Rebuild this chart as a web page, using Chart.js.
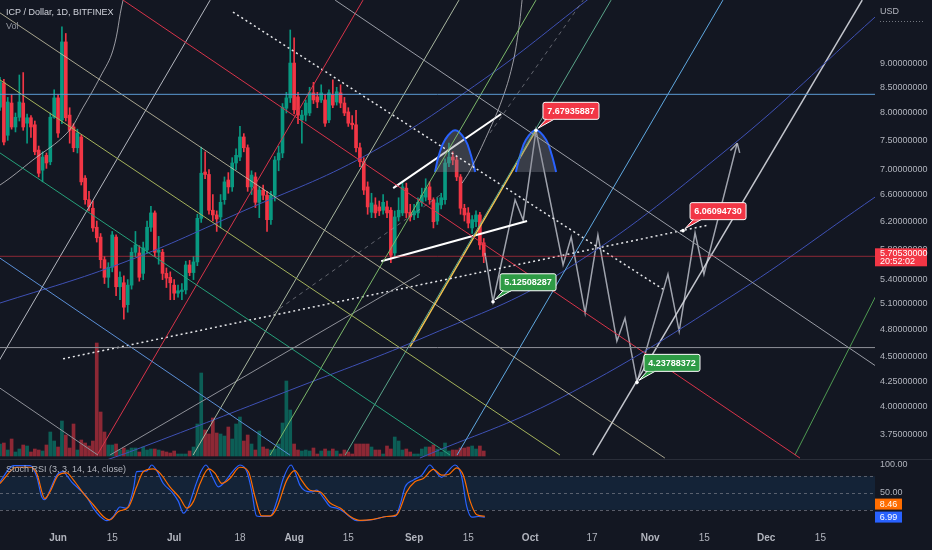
<!DOCTYPE html>
<html>
<head>
<meta charset="utf-8">
<script src="https://cdn.jsdelivr.net/npm/chart.js@4.4.1/dist/chart.umd.min.js"></script>
<style>
  html, body { margin: 0; padding: 0; background: #131722; overflow: hidden; }
  #wrap { position: relative; width: 932px; height: 550px; }
  canvas { position: absolute; left: 0; display: block; }
  #main { top: 0; }
  #stoch { top: 459px; }
</style>
</head>
<body>
<div id="wrap">
  <canvas id="main" width="932" height="459"></canvas>
  <canvas id="stoch" width="932" height="91"></canvas>
</div>
<script>
// day 0 = 1 Jun; first candle is 17 May
const firstDay = -15;
const xMin = -15, xMax = 211.1;
const priceMin = 3.537, priceMax = 10.443;

const priceTicks = [9, 8.5, 8, 7.5, 7, 6.6, 6.2, 5.8, 5.4, 5.1, 4.8, 4.5, 4.25, 4, 3.75];
const tickDays = [0, 14, 30, 47, 61, 75, 92, 106, 122, 138, 153, 167, 183, 197];
const tickLabels = ['Jun', '15', 'Jul', '18', 'Aug', '15', 'Sep', '15', 'Oct', '17', 'Nov', '15', 'Dec', '15'];

const opens = [8.11,8.59,7.59,8.19,7.74,7.92,8.19,7.81,7.91,7.78, 7.33,6.99,7.24,7.13,7.92,8.29,7.87,9.46,7.96,7.74,
  7.37,7.56,6.86,6.52,6.39,6.11,5.97,5.66,5.43,5.56, 5.97,5.31,5.36,5.09,5.33,5.76,5.75,5.48,5.79,6.11,
  6.32,5.76,5.76,5.48,5.43,5.33,5.23,5.25,5.27,5.59, 5.49,5.63,6.24,6.96,6.92,6.36,6.29,6.26,6.52,6.83,
  6.72,7.11,7.21,7.56,7.37,6.72,6.88,6.48,6.67,6.59, 6.22,6.59,7.16,7.28,8.09,8.29,9.00,8.31,7.87,7.96,
  8.00,8.39,8.31,8.25,8.25,7.87,8.35,8.21,8.39,8.19, 8.02,7.81,7.78,7.37,7.13,6.72,6.33,6.44,6.41,6.36,
  6.41,6.36,5.75,6.26,6.32,6.70,6.33,6.29,6.32,6.48, 6.56,6.72,6.52,6.20,6.44,6.52,7.11,7.21,7.16,6.88,
  6.39,6.32,6.10,6.19,6.29,5.89];
const highs = [8.70,8.66,8.30,8.35,8.00,8.75,8.80,7.98,7.95,7.85, 7.40,7.30,7.28,8.00,8.45,8.35,9.80,9.65,8.10,7.80,
  7.70,7.60,6.90,6.65,6.50,6.20,6.02,5.70,5.62,6.05, 6.00,5.50,5.45,5.40,5.82,6.05,5.85,5.90,6.20,6.42,
  6.35,5.98,5.80,5.55,5.50,5.40,5.33,5.35,5.64,5.65, 5.70,6.30,7.38,7.30,7.00,6.60,6.35,6.60,6.88,6.95,
  7.20,7.35,7.75,7.62,7.42,6.98,6.95,6.72,6.75,6.65, 6.65,7.22,7.40,8.18,8.40,9.73,9.55,8.40,8.05,8.25,
  8.50,8.60,8.40,8.55,8.35,8.45,8.65,8.50,8.55,8.30, 8.10,7.95,8.05,7.45,7.20,6.80,6.62,6.55,6.50,6.60,
  6.50,6.40,6.35,6.55,6.80,6.78,6.45,6.45,6.55,6.70, 6.85,6.80,6.55,6.55,6.62,7.18,7.45,7.30,7.22,6.92,
  6.45,6.40,6.28,6.35,6.33,5.95];
const lows = [8.05,7.42,7.50,7.70,7.65,7.85,7.68,7.45,7.55,7.25, 6.88,6.80,7.02,7.08,7.90,7.55,7.80,7.85,7.45,7.30,
  7.28,6.75,6.45,6.35,6.05,5.90,5.55,5.35,5.30,5.50, 5.20,5.15,4.92,5.00,5.28,5.70,5.38,5.40,5.75,6.05,
  5.70,5.60,5.40,5.30,5.15,5.15,5.18,5.15,5.22,5.45, 5.40,5.58,6.18,6.85,6.30,6.20,6.05,6.10,6.45,6.62,
  6.65,7.00,7.15,7.30,6.65,6.60,6.40,6.25,6.52,6.05, 6.15,6.50,6.98,7.20,8.00,8.20,7.98,7.80,7.45,7.85,
  7.95,8.18,8.10,8.20,7.75,7.82,8.10,8.15,8.10,7.95, 7.75,7.70,7.30,7.05,6.60,6.30,6.25,6.25,6.28,6.30,
  6.25,5.62,5.70,6.20,6.28,6.25,6.20,6.22,6.25,6.42, 6.50,6.45,6.10,6.15,6.38,6.45,7.05,7.08,6.82,6.30,
  6.20,6.10,6.02,6.12,5.80,5.62];
const closes = [8.61,7.47,8.21,7.74,7.92,8.21,7.74,7.91,7.74,7.30, 6.94,7.21,7.11,7.92,8.29,7.63,9.46,7.91,7.68,7.37,
  7.63,6.80,6.52,6.41,6.10,5.96,5.66,5.43,5.56,6.00, 5.31,5.43,5.06,5.33,5.76,5.86,5.43,5.82,6.11,6.32,
  5.76,5.79,5.48,5.42,5.36,5.23,5.26,5.27,5.59,5.49, 5.63,6.24,6.94,6.92,6.36,6.29,6.23,6.48,6.80,6.72,
  7.11,7.24,7.56,7.37,6.72,6.91,6.48,6.67,6.59,6.22, 6.59,7.16,7.28,8.11,8.29,9.00,8.06,7.96,7.96,8.19,
  8.39,8.25,8.21,8.39,7.81,8.39,8.15,8.41,8.19,8.00, 7.81,7.78,7.37,7.13,6.67,6.41,6.47,6.32,6.35,6.48,
  6.32,5.72,6.26,6.36,6.72,6.32,6.26,6.35,6.48,6.59, 6.70,6.52,6.19,6.47,6.55,7.11,7.21,7.16,6.88,6.39,
  6.29,6.17,6.22,6.29,5.86,5.7053];
const volumes = [12,13,6,17,4,7,11,10,4,7, 6,5,11,24,15,9,35,21,8,32, 6,16,13,10,15,113,44,24,11,11,
  12,6,8,6,8,8,4,9,6,7, 7,6,5,4,3,5,2,2,2,5, 9,32,83,26,22,38,23,22,20,29,
  17,32,39,15,21,12,6,25,9,7, 6,7,12,33,75,46,12,6,5,6, 5,8,2,5,7,5,7,5,2,6,
  4,2,12,12,12,12,9,6,6,2, 10,7,19,15,6,7,4,2,2,7, 9,9,11,7,4,13,5,6,6,8,
  8,9,10,7,10,5];

// Stoch RSI
const kDays = [-15,-11.5,-9.4,-7.2,-5.5,-4.2,-3.4,-2.1,-0.3,1.4, 2.2,3.5,5.3,7.4,9.1,10.9,12.6,14.3,16.0,17.7,
  19.5,20.3,22.9,24.2,25.5,27.2,29.4,31.1,32.4,33.7, 35.4,36.7,38.2,40.1,41.4,42.7,44.4,45.7,47.0,48.8,
  50.0,51.3,53.0,54.8,56.5,58.2,60.2,61.2,62.5,63.8, 65.6,66.8,68.6,70.3,72.0,73.7,75.5,77.2,79.8,82.4,
  84.9,87.1,88.4,89.7,91.8,94.0,96.1,97.4,99.1,100.9, 102.6,104.3,105.6,106.9,108.6,110.3];
const stochK = [70,99,99,99,79,43,38,55,82,88, 82,70,58,43,23,8,0.5,8,25,23, 58,88,89,100,90,67,52,35,14,26,
  61,85,100,76,61,67,82,93,100,88, 55,9,8,8,35,76,100,88,64,54, 52,55,41,26,23,17,7,0.5,1,4,
  8,8,29,61,73,82,100,90,78,90, 100,79,26,7,8,6.99];
const dDays = [-15,-10.7,-7.2,-5.5,-3.4,-2.1,0.1,2.2,4.0,6.6, 9.1,11.7,13.4,15.6,18.2,20.3,22.0,24.6,26.4,28.9,
  31.5,33.3,35.0,36.7,38.9,40.6,42.3,44.4,47.0,49.2, 50.9,52.6,54.8,56.5,59.1,61.2,62.9,65.1,67.7,70.3,
  72.9,75.5,78.0,81.5,84.9,87.5,90.1,92.2,94.4,97.0, 99.1,100.9,103.0,104.7,106.5,108.2,110.3];
const stochD = [67,96,96,85,40,52,82,86,73,49, 29,8,2,17,25,61,88,93,85,61, 41,23,35,67,93,85,67,76,96,88,
  43,9,9,23,73,90,73,55,52,32, 23,8,1,3,8,11,52,70,76,92, 82,83,95,82,35,11,8.46];
const stochBands = [80, 50, 20];
const stochTicks = [100, 50];

// drawings: [day, price] points
const levelPrices = [8.36, 4.60];
const dotDown = [[45.2, 10.15], [156.3, 5.28]];
const dotUp = [[1.3, 4.48], [168.0, 6.14]];
const chanUpper = [[86.6, 6.70], [114.5, 7.98]];
const chanLower = [[83.5, 5.64], [121.2, 6.20]];
const yellowLine = [[91.0, 4.61], [123.5, 7.68]];
const descLines = [
  [[-15, 10.13], [156.8, 3.545]],
  [[-15, 8.65], [129.7, 3.57]],
  [[-15, 7.28], [101.3, 3.57]],
  [[-15, 5.68], [59.9, 3.57]],
  [[-15, 4.18], [10.3, 3.57]],
  [[16.8, 10.44], [191.7, 3.545]],
  [[71.6, 10.44], [211.1, 4.41]]
];
const ascLines = [
  [[-29.5, 3.57], [39.3, 10.44]],
  [[10.1, 3.57], [78.8, 10.44]],
  [[34.9, 3.57], [103.6, 10.44]],
  [[54.8, 3.57], [123.5, 10.44]],
  [[74.2, 3.57], [142.9, 10.44]],
  [[103.1, 3.57], [171.8, 10.44]],
  [[190.4, 3.57], [250.2, 10.44]],
  [[13.4, 3.57], [93.5, 5.47]]
];
const dashLines = [
  [[55.6, 4.99], [98.7, 6.59]],
  [[111.6, 7.63], [135.7, 10.44]]
];
const whiteRay = [[138.2, 3.57], [207.8, 10.44]];
const arcGray1 = [[18.6, 10.95], [16.8, 10.44], [14.2, 9.28], [10.9, 8.71], [6.5, 8.11], [2.3, 7.63], [-6.5, 7.16], [-15, 6.75], [-20.2, 6.59]];
const arcGray2 = [[120.4, 10.95], [119.9, 10.44], [118.9, 9.66], [117.3, 8.92], [114.7, 8.25], [111.1, 7.63], [106.5, 6.99], [104.4, 6.78]];
const arcBlue1 = [[-20.2, 5.05], [-15, 5.11], [17.3, 5.63], [48.3, 6.36], [79.3, 7.23], [109.8, 8.65], [136.7, 10.44], [145, 11.08]];
const arcBlue2 = [[10.9, 3.51], [21.2, 3.63], [59.9, 4.16], [96.1, 4.74], [129.7, 5.48], [173.6, 7.38], [211.1, 10.03]];
const arcBlue3 = [[93.5, 3.545], [129.7, 4.08], [173.6, 5.18], [211.1, 6.56]];
const humpPrices = [6.96, 7.24, 7.51, 7.68, 7.51, 7.24, 6.96];
const hump1Days = [97.4, 98.4, 100.0, 102.6, 105.2, 106.7, 107.8];
const hump2Days = [118.3, 119.4, 120.9, 123.5, 126.1, 127.6, 128.7];
const humpBase = 6.96;
const projDays = [110.3, 112.4, 118.1, 120.2, 123.5, 130.5, 132.6, 136.2, 139.5, 144.4, 146.5, 149.6, 157.6, 160.5, 164.6, 166.9, 175.5];
const projPrices = [5.75, 5.125, 6.52, 6.21, 7.679, 5.59, 5.97, 4.99, 6.00, 4.67, 4.93, 4.238, 5.47, 4.78, 6.03, 5.47, 7.45];
const calloutDays = [123.5, 112.4, 149.6, 161.5];
const calloutPrices = [7.67935887, 5.12508287, 4.23788372, 6.06094730];

const FONT = "'Liberation Sans', Arial, sans-serif";
Chart.defaults.font.family = FONT;
const UP = '#089981', DOWN = '#f23645';
const AXIS_TXT = '#b2b5be';

const days = closes.map((_, i) => firstDay + i);
const isUp = closes.map((c, i) => c >= opens[i]);
const lastClose = closes[closes.length - 1];

function seg(points, color, extra) {
  return Object.assign({
    type: 'line',
    data: points.map(([x, y]) => ({ x, y })),
    borderColor: color,
    borderWidth: 1,
    pointRadius: 0,
    tension: 0,
    fill: false,
    order: 0
  }, extra || {});
}

const descColors = ['rgba(205,200,170,0.8)', '#a5b35c', '#26a17a', '#5b8fd6', '#8f9199', '#d8344a', '#9a9da6'];
const ascColors = ['#b5b8c0', '#d8344a', '#a9b7a0', '#7cb86a', '#5aa58a', '#5fa8e0', '#4f9a52', '#8f9199'];

const drawingSets = [
  seg([[xMin, levelPrices[0]], [xMax, levelPrices[0]]], '#5b9bd5'),
  seg([[xMin, levelPrices[1]], [xMax, levelPrices[1]]], '#8f9199'),
  seg([[xMin, lastClose], [xMax, lastClose]], 'rgba(242,54,69,0.55)'),
  ...descLines.map((l, i) => seg(l, descColors[i])),
  ...ascLines.map((l, i) => seg(l, ascColors[i])),
  ...dashLines.map(l => seg(l, 'rgba(150,152,160,0.6)', { borderDash: [4, 4] })),
  seg(arcGray1, 'rgba(200,200,205,0.75)', { tension: 0.4 }),
  seg(arcGray2, 'rgba(200,200,205,0.75)', { tension: 0.4 }),
  seg(arcBlue1, '#3f51b5', { tension: 0.4 }),
  seg(arcBlue2, '#3f51b5', { tension: 0.4 }),
  seg(arcBlue3, '#3f51b5', { tension: 0.4 }),
  seg(whiteRay, 'rgba(215,217,224,0.9)', { borderWidth: 1.5 }),
  seg(dotDown, '#e6e7ea', { borderWidth: 1.5, borderDash: [2, 3] }),
  seg(dotUp, '#e6e7ea', { borderWidth: 1.5, borderDash: [2, 3] }),
  seg(hump1Days.map((d, i) => [d, humpPrices[i]]), '#2962ff', { borderWidth: 2, tension: 0.4, fill: { value: humpBase }, backgroundColor: 'rgba(130,133,144,0.35)' }),
  seg(hump2Days.map((d, i) => [d, humpPrices[i]]), '#2962ff', { borderWidth: 2, tension: 0.4, fill: { value: humpBase }, backgroundColor: 'rgba(130,133,144,0.35)' }),
  seg(yellowLine, '#f2c14e', { borderWidth: 1.5 }),
  seg(chanUpper, '#ffffff', { borderWidth: 2 }),
  seg(chanLower, '#ffffff', { borderWidth: 2 }),
  seg(projDays.map((d, i) => [d, projPrices[i]]), 'rgba(175,178,188,0.9)', { borderWidth: 1.5 })
];

const mainOverlay = {
  id: 'mainOverlay',
  afterDraw(chart) {
    const { ctx, chartArea: a, scales: { x, y } } = chart;
    ctx.save();
    ctx.textBaseline = 'middle';
    ctx.textAlign = 'left';
    ctx.font = '9px ' + FONT;
    ctx.fillStyle = '#d1d4dc';
    ctx.fillText('ICP / Dollar, 1D, BITFINEX', 6, 13);
    ctx.fillStyle = '#9598a1';
    ctx.fillText('Vol', 6, 27);
    ctx.fillStyle = AXIS_TXT;
    ctx.fillText('USD', a.right + 5, 12);
    ctx.strokeStyle = 'rgba(178,181,190,0.6)';
    ctx.setLineDash([1, 2]);
    ctx.beginPath(); ctx.moveTo(a.right + 5, 21.5); ctx.lineTo(a.right + 50, 21.5); ctx.stroke();
    ctx.setLineDash([]);

    // arrow head on projection path
    const n = projDays.length;
    const x1 = x.getPixelForValue(projDays[n - 2]), y1 = y.getPixelForValue(projPrices[n - 2]);
    const x2 = x.getPixelForValue(projDays[n - 1]), y2 = y.getPixelForValue(projPrices[n - 1]);
    const ang = Math.atan2(y2 - y1, x2 - x1);
    ctx.strokeStyle = 'rgba(175,178,188,0.9)';
    ctx.lineWidth = 1.5;
    ctx.beginPath();
    [-1, 1].forEach(s => {
      ctx.moveTo(x2, y2);
      ctx.lineTo(x2 - 10 * Math.cos(ang + s * 0.5), y2 - 10 * Math.sin(ang + s * 0.5));
    });
    ctx.stroke();

    // callouts
    calloutDays.forEach((d, i) => {
      const px = x.getPixelForValue(d), py = y.getPixelForValue(calloutPrices[i]);
      const col = i === 0 || i === 3 ? '#f23645' : '#2e9b45';
      const bx = px + 7, by = py - 28, bw = 56, bh = 17;
      ctx.fillStyle = col;
      ctx.strokeStyle = '#ffffff';
      ctx.lineWidth = 1;
      ctx.beginPath();
      ctx.moveTo(px + 2, py - 2);
      ctx.lineTo(bx + 3, by + bh);
      ctx.lineTo(bx + 11, by + bh);
      ctx.closePath();
      ctx.fill(); ctx.stroke();
      ctx.beginPath();
      ctx.roundRect(bx, by, bw, bh, 2);
      ctx.fill(); ctx.stroke();
      ctx.beginPath();
      ctx.moveTo(bx + 3.5, by + bh - 0.5); ctx.lineTo(bx + 10.5, by + bh - 0.5);
      ctx.strokeStyle = col; ctx.stroke();
      ctx.fillStyle = '#ffffff';
      ctx.beginPath(); ctx.arc(px, py, 1.8, 0, Math.PI * 2); ctx.fill();
      ctx.font = 'bold 9px ' + FONT;
      ctx.textAlign = 'center';
      ctx.fillText(calloutPrices[i].toFixed(8), bx + bw / 2, by + bh / 2 + 0.5);
    });

    // last price tag on the axis
    const ly = y.getPixelForValue(lastClose);
    ctx.fillStyle = '#f23645';
    ctx.fillRect(a.right, ly - 8, 52, 18);
    ctx.fillStyle = '#ffffff';
    ctx.textAlign = 'left';
    ctx.font = '9px ' + FONT;
    ctx.fillText(lastClose.toFixed(8), a.right + 5, ly - 3);
    ctx.fillText('20:52:02', a.right + 5, ly + 5.5);
    ctx.restore();
  }
};

new Chart(document.getElementById('main'), {
  type: 'bar',
  data: {
    datasets: [
      ...drawingSets,
      {
        type: 'bar', order: 1, grouped: false, barThickness: 3, minBarLength: 1,
        data: days.map((d, i) => ({ x: d, y: [opens[i], closes[i]] })),
        backgroundColor: isUp.map(u => (u ? UP : DOWN))
      },
      {
        type: 'bar', order: 2, grouped: false, barThickness: 1,
        data: days.map((d, i) => ({ x: d, y: [lows[i], highs[i]] })),
        backgroundColor: isUp.map(u => (u ? UP : DOWN))
      },
      {
        type: 'bar', order: 3, grouped: false, barThickness: 3, yAxisID: 'yVol',
        data: days.map((d, i) => ({ x: d, y: volumes[i] })),
        backgroundColor: isUp.map(u => (u ? 'rgba(8,153,129,0.55)' : 'rgba(242,54,69,0.55)'))
      }
    ]
  },
  options: {
    responsive: false,
    animation: false,
    events: [],
    layout: { padding: 0, autoPadding: false },
    plugins: { legend: { display: false }, tooltip: { enabled: false } },
    scales: {
      x: { type: 'linear', display: false, min: xMin, max: xMax, offset: false },
      y: {
        type: 'logarithmic', position: 'right', min: priceMin, max: priceMax, bounds: 'data',
        grid: { display: false, drawTicks: false }, border: { display: false },
        ticks: { color: AXIS_TXT, font: { size: 9 }, padding: 5, autoSkip: false, callback: v => Number(v).toFixed(8) },
        afterBuildTicks: s => { s.ticks = priceTicks.map(v => ({ value: v })); },
        afterFit: s => { s.width = 57; s.paddingTop = 0; s.paddingBottom = 0; }
      },
      yVol: { type: 'linear', display: false, min: -3, max: 456 }
    }
  },
  plugins: [mainOverlay]
});

const stochPanel = {
  id: 'stochPanel',
  beforeDatasetsDraw(chart) {
    const { ctx, chartArea: a, scales: { y } } = chart;
    ctx.save();
    const top = y.getPixelForValue(stochBands[0]), bot = y.getPixelForValue(stochBands[2]);
    ctx.fillStyle = 'rgba(33,150,243,0.1)';
    ctx.fillRect(a.left, top, a.right - a.left, bot - top);
    ctx.strokeStyle = 'rgba(120,123,134,0.7)';
    ctx.lineWidth = 1;
    ctx.setLineDash([3, 3]);
    stochBands.forEach(v => {
      const py = Math.round(y.getPixelForValue(v)) + 0.5;
      ctx.beginPath(); ctx.moveTo(a.left, py); ctx.lineTo(a.right, py); ctx.stroke();
    });
    ctx.restore();
  },
  afterDraw(chart) {
    const { ctx, chartArea: a, scales: { y } } = chart;
    ctx.save();
    ctx.strokeStyle = '#2a2e39';
    ctx.lineWidth = 1;
    ctx.beginPath(); ctx.moveTo(0, 0.5); ctx.lineTo(chart.width, 0.5); ctx.stroke();
    ctx.textBaseline = 'middle';
    ctx.textAlign = 'left';
    ctx.font = '9px ' + FONT;
    ctx.fillStyle = AXIS_TXT;
    ctx.fillText('Stoch RSI (3, 3, 14, 14, close)', 6, 11);
    const lastK = stochK[stochK.length - 1], lastD = stochD[stochD.length - 1];
    const kY = y.getPixelForValue(lastK);
    const dY = Math.min(y.getPixelForValue(lastD), kY - 13);
    [[dY, '#ff6d00', lastD], [kY, '#2962ff', lastK]].forEach(([py, col, v]) => {
      ctx.fillStyle = col;
      ctx.fillRect(a.right, py - 5.5, 27, 11);
      ctx.fillStyle = '#ffffff';
      ctx.textAlign = 'center';
      ctx.fillText(v.toFixed(2), a.right + 13.5, py + 0.5);
    });
    ctx.restore();
  }
};

new Chart(document.getElementById('stoch'), {
  type: 'line',
  data: {
    datasets: [
      {
        order: 0, data: dDays.map((d, i) => ({ x: d, y: stochD[i] })),
        borderColor: '#ff6d00', borderWidth: 1.2, pointRadius: 0, cubicInterpolationMode: 'monotone'
      },
      {
        order: 1, data: kDays.map((d, i) => ({ x: d, y: stochK[i] })),
        borderColor: '#2962ff', borderWidth: 1.2, pointRadius: 0, cubicInterpolationMode: 'monotone'
      }
    ]
  },
  options: {
    responsive: false,
    animation: false,
    events: [],
    layout: { padding: 0, autoPadding: false },
    plugins: { legend: { display: false }, tooltip: { enabled: false } },
    scales: {
      x: {
        type: 'linear', min: xMin, max: xMax, offset: false,
        grid: { display: false, drawTicks: false }, border: { display: false },
        ticks: {
          color: AXIS_TXT, padding: 4, autoSkip: false, maxRotation: 0,
          font: ctx => ({ size: 10, weight: /^[A-Z]/.test(tickLabels[ctx.index] || '') ? 'bold' : 'normal' }),
          callback: (v, i) => tickLabels[i]
        },
        afterBuildTicks: s => { s.ticks = tickDays.map(v => ({ value: v })); },
        afterFit: s => { s.height = 22; s.paddingLeft = 0; s.paddingRight = 0; }
      },
      y: {
        type: 'linear', position: 'right', min: -12.5, max: 110.7,
        grid: { display: false, drawTicks: false }, border: { display: false },
        ticks: { color: AXIS_TXT, font: { size: 9 }, padding: 5, autoSkip: false, callback: v => Number(v).toFixed(2) },
        afterBuildTicks: s => { s.ticks = stochTicks.map(v => ({ value: v })); },
        afterFit: s => { s.width = 57; s.paddingTop = 0; s.paddingBottom = 0; }
      }
    }
  },
  plugins: [stochPanel]
});
</script>
</body>
</html>
